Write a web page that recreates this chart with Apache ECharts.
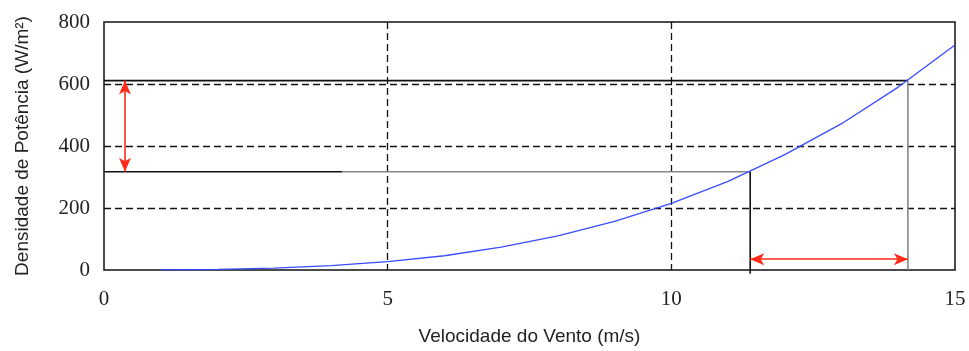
<!DOCTYPE html>
<html>
<head>
<meta charset="utf-8">
<script src="https://cdn.jsdelivr.net/npm/echarts@6/dist/echarts.min.js"></script>
<style>
  html, body { margin: 0; padding: 0; background: #fff; }
  #chart { width: 969px; height: 351px; }
</style>
</head>
<body>
<div id="chart"></div>
<script>
// Wind speed (m/s) and power density (W/m²)
const windSpeed = [1, 2, 3, 4, 5, 6, 7, 8, 9, 10, 11, 12, 13, 14, 15];
const powerDensity = [0.2, 1.7, 5.8, 14, 27, 46, 74, 110, 157, 215, 286, 372, 472, 590, 726];

// Two operating points read on the curve
const speedA = 11.39, powerA = 317;
const speedB = 14.17, powerB = 611;
const blackUntil = 4.2;      // the lower guide turns grey past this speed
const arrowSpeed = 0.37;     // position of the vertical (power) arrow
const arrowPower = 35;       // position of the horizontal (speed) arrow

const xTicks = [0, 5, 10, 15];
const yTicks = [0, 200, 400, 600, 800];

const curve = windSpeed.map((v, i) => [v, powerDensity[i]]);

const chart = echarts.init(document.getElementById('chart'), null, { renderer: 'canvas' });

const guide = (data, color) => ({
  type: 'line', data, symbol: 'none', clip: false, silent: true,
  lineStyle: { color, width: 1.6 }, z: 3
});

const dashed = { color: '#111', width: 1.3, type: [7, 4] };

chart.setOption({
  animation: false,
  backgroundColor: '#ffffff',
  grid: {
    left: 104, right: 14, top: 22, bottom: 78,
    show: true, borderColor: '#111', borderWidth: 1.5, backgroundColor: 'transparent'
  },
  xAxis: {
    type: 'value', min: xTicks[0], max: xTicks[xTicks.length - 1], interval: 5,
    name: 'Velocidade do Vento (m/s)', nameLocation: 'middle', nameGap: 57,
    nameTextStyle: { fontFamily: 'Liberation Sans', fontSize: 19, color: '#222' },
    axisLine: { show: false }, axisTick: { show: false },
    axisLabel: { fontFamily: 'Liberation Serif', fontSize: 21, color: '#222', margin: 19 },
    splitLine: { show: true, showMinLine: false, showMaxLine: false, lineStyle: dashed }
  },
  yAxis: {
    type: 'value', min: yTicks[0], max: yTicks[yTicks.length - 1], interval: 200,
    name: 'Densidade de Potência (W/m²)', nameLocation: 'middle', nameGap: 72,
    nameTextStyle: { fontFamily: 'Liberation Sans', fontSize: 19, color: '#222' },
    axisLine: { show: false }, axisTick: { show: false },
    axisLabel: { fontFamily: 'Liberation Serif', fontSize: 21, color: '#222', margin: 14 },
    splitLine: { show: true, showMinLine: false, showMaxLine: false, lineStyle: dashed }
  },
  series: [
    guide([[0, powerB], [speedB, powerB]], '#111'),
    guide([[speedB, powerB], [speedB, 0]], '#888'),
    guide([[0, powerA], [blackUntil, powerA]], '#111'),
    guide([[blackUntil, powerA], [speedA, powerA]], '#888'),
    guide([[speedA, powerA], [speedA, -12]], '#111'),
    {
      type: 'line', data: curve, symbol: 'none', smooth: false, z: 4,
      lineStyle: { color: '#3a4cff', width: 1.3 }
    },
    {
      type: 'line', data: [], z: 5,
      markLine: {
        silent: true, symbol: ['arrow', 'arrow'], symbolSize: [9, 14],
        label: { show: false },
        lineStyle: { color: '#ff2a1a', width: 1.6, type: 'solid' },
        data: [
          [{ coord: [arrowSpeed, powerB] }, { coord: [arrowSpeed, powerA] }],
          [{ coord: [speedA, arrowPower] }, { coord: [speedB, arrowPower] }]
        ]
      }
    }
  ]
});
</script>
</body>
</html>
